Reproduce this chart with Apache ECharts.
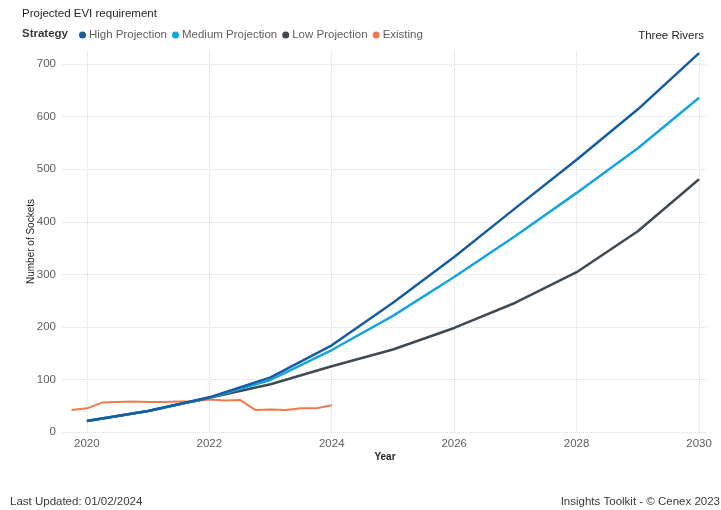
<!DOCTYPE html>
<html><head><meta charset="utf-8">
<script src="https://cdn.jsdelivr.net/npm/echarts@6/dist/echarts.min.js"></script>
<style>html,body{margin:0;padding:0;background:#fff}#c{width:721px;height:510px}</style>
</head><body><div id="c"></div>
<script>
var years = [2020, 2021, 2022, 2023, 2024, 2025, 2026, 2027, 2028, 2029, 2030];
var highProjection = [21, 40, 66, 104, 165, 246, 333, 426, 518, 614, 721];
var mediumProjection = [21, 40, 65, 99, 156, 221, 295, 373, 455, 540, 636];
var lowProjection = [21, 40, 65, 91, 125, 157, 198, 246, 304, 382, 481];
var existingTimes = [2019.75, 2020, 2020.25, 2020.5, 2020.75, 2021, 2021.25, 2021.5, 2021.75, 2022, 2022.25, 2022.5, 2022.75, 2023, 2023.25, 2023.5, 2023.75, 2024];
var existingValues = [42, 45, 56, 57, 58, 57, 57, 58, 58, 62, 60, 61, 42, 43, 42, 45, 45, 51];
var xTicks = [2020, 2022, 2024, 2026, 2028, 2030];
var yTicks = [0, 100, 200, 300, 400, 500, 600, 700];

function pairs(xs, ys){ return xs.map(function(x,i){ return [x, ys[i]]; }); }

var font = 'Liberation Sans, Arial, sans-serif';
var fs = 11.5;
var chart = echarts.init(document.getElementById('c'));
chart.setOption({
  animation: false,
  textStyle: {fontFamily: font},
  grid: {left: 63, right: 14, top: 51, bottom: 78, containLabel: false},
  graphic: [
    {type: 'text', left: 22, top: 8, style: {text: 'Projected EVI requirement', font: fs + 'px ' + font, fill: '#252423'}},
    {type: 'text', left: 22, top: 28, style: {text: 'Strategy', font: 'bold ' + fs + 'px ' + font, fill: '#3b3a39'}},
    {type: 'text', right: 17, top: 30, style: {text: 'Three Rivers', font: fs + 'px ' + font, fill: '#252423'}},
    {type: 'text', left: 10, top: 496, style: {text: 'Last Updated: 01/02/2024', font: fs + 'px ' + font, fill: '#3b3a39'}},
    {type: 'text', right: 1, top: 496, style: {text: 'Insights Toolkit - \u00a9 Cenex 2023', font: fs + 'px ' + font, fill: '#3b3a39'}}
  ],
  legend: {
    left: 74, top: 24, icon: 'circle', itemWidth: 7, itemHeight: 7, itemGap: 5,
    textStyle: {fontSize: fs, color: '#605E5C', fontFamily: font, padding: [0,0,0,-2]},
    data: ['High Projection', 'Medium Projection', 'Low Projection', 'Existing']
  },
  xAxis: {
    type: 'value', min: 2019.61, max: 2030.13,
    name: 'Year', nameLocation: 'middle', nameGap: 20, nameMoveOverlap: false,
    nameTextStyle: {fontSize: 10, color: '#252423', fontWeight: 'bold'},
    axisLine: {show: false}, axisTick: {show: false, customValues: xTicks},
    axisLabel: {customValues: xTicks, color: '#605E5C', fontSize: fs, margin: 6, formatter: function(v){return String(v);}},
    splitLine: {show: true, lineStyle: {type: 'dotted', color: '#DCDCDC', width: 1}}
  },
  yAxis: {
    type: 'value', min: 0, max: 725,
    name: 'Number of Sockets', nameLocation: 'middle', nameGap: 27, nameMoveOverlap: false,
    nameTextStyle: {fontSize: 10, color: '#252423'},
    axisLine: {show: false}, axisTick: {show: false, customValues: yTicks},
    axisLabel: {customValues: yTicks, color: '#605E5C', fontSize: fs, margin: 7},
    splitLine: {show: true, lineStyle: {type: 'dotted', color: '#DCDCDC', width: 1}}
  },
  series: [
    {name: 'Existing', type: 'line', data: pairs(existingTimes, existingValues), symbol: 'none', lineStyle: {width: 2, color: '#EE7B50'}, itemStyle: {color: '#EE7B50'}, z: 2},
    {name: 'Low Projection', type: 'line', data: pairs(years, lowProjection), symbol: 'none', lineStyle: {width: 2.5, color: '#3F4A52'}, itemStyle: {color: '#3F4A52'}, z: 3},
    {name: 'Medium Projection', type: 'line', data: pairs(years, mediumProjection), symbol: 'none', lineStyle: {width: 2.5, color: '#16A3E0'}, itemStyle: {color: '#16A3E0'}, z: 4},
    {name: 'High Projection', type: 'line', data: pairs(years, highProjection), symbol: 'none', lineStyle: {width: 2.5, color: '#175C9E'}, itemStyle: {color: '#175C9E'}, z: 5}
  ]
});
</script></body></html>
